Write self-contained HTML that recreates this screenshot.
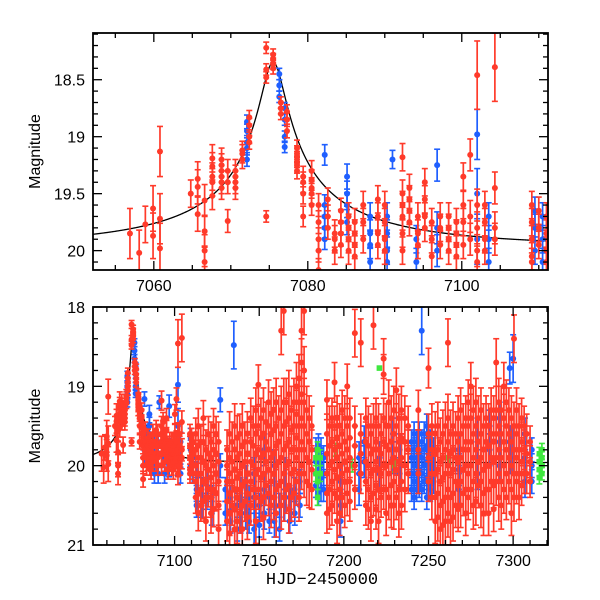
<!DOCTYPE html>
<html><head><meta charset="utf-8"><style>
html,body{margin:0;padding:0;background:#fff;}
svg{display:block;font-family:"Liberation Sans",sans-serif;}
</style></head><body>
<svg id="chart" width="600" height="600" viewBox="0 0 600 600" xmlns="http://www.w3.org/2000/svg"></svg>
<script>
// ---- data ----
const redNightT = [7056.9,7058.1,7058.9,7059.9,7060.8,7064.8,7065.7,7066.6,7067.6,7068.8,7069.6,7070.6,7071.5,7072.4,7074.6,7075.5,7076.5,7077.3,7078.6,7079.4,7080.5,7081.4,7082.6,7083.5,7084.3,7085.3,7086.1,7087.2,7089.1,7090.0,7092.3,7093.2,7094.3,7095.2,7096.1,7097.2,7098.3,7099.3,7100.2,7101.1,7102.0,7103.0,7104.3,7109.1,7110.0,7111.0,
7112.5,7114,7115.5,7117,7118.5,7120,7121.5,7123,7124.5,7126,7131,7132.5,7134,7135.5,7137,7138.5,7140,7141.5,7143,7145,7146.5,7148,7149.5,7151,7152.5,7154,7155.5,7157,7158.5,7160,7161.5,7163,7164.5,7166,7167.5,7169,7170.5,7172,7173.5,7175,7176.5,7178,7179.5,7181,
7190,7191.5,7193,7194.5,7196,7197.5,7199,7200.5,7202,7203.5,7206.5,7210,7213,7214.5,7216,7217.5,7219,7220.5,7222,7223.5,7225,7226.5,7228,7229.5,7231,7232.5,7234,7236,7238,7244,7250,7252,7254,7255.5,7257,7258.5,7260,7261.5,7263,7264.5,7266,7267.5,7269,7270.5,7272,7273.5,7275,7276.5,7278,7279.5,7281,7282.5,7284,7285.5,7287,7288.5,7290,7291.5,7293,7294.5,7296,7297.5,7299,7300.5,7302,7303.5,7305,7306.5,7308,7310];
const redNightMag = [[19.85],[20.02],[19.77],[19.63,19.87],[19.13,19.72,19.98],[19.5],[19.37,19.44,19.68],[19.56,19.83,20.0,20.1],[19.19,19.26,19.35,19.4,19.52],[19.2,19.25,19.3,19.35,19.4,19.45],[19.3,19.4,19.74],[19.3,19.35,19.4,19.45],[19.12,19.15,19.2],[18.83,18.9,19.0,19.05],[18.22,18.41,18.48,19.7],[18.28,18.32,18.36,18.4],[18.7,18.75,18.8],[18.78,18.85,18.95],[19.1,19.15,19.2,19.25,19.3],[19.35,19.4,19.5,19.7],[19.3,19.38,19.45,19.5,19.6],[19.6,19.75,19.9,20.0,20.17],[19.55,19.7,19.8],[19.85,20.0,19.9],[19.65,19.75,19.85,19.95],[19.7,19.8,19.9,20.0],[19.75,19.85,19.95,20.05],[19.6,19.75,19.9],[19.55,19.7,19.85,19.95],[19.6,19.75,19.9,20.0],[19.18,19.5,19.6,19.7,19.85,20.0],[19.45,19.55,19.65,19.75],[19.7,19.85,19.95],[19.4,19.55,19.7,19.8],[19.75,19.9,20.05],[19.7,19.8,19.95],[19.7,19.8,19.9,20.0],[19.75,19.85,19.95,20.05],[19.35,19.6,19.75,19.95],[19.16,19.7,19.9],[18.46,19.6,19.8,20.0,20.1],[19.6,19.75,19.9,20.0],[18.39,19.45,19.8,19.9],[19.6,19.75,19.9,20.05,20.1],[19.65,19.8,19.95],[19.7,19.85,20.0,20.1],
[19.6,19.8,20.0,20.2,20.4],[19.5,19.75,19.9,20.1,20.35,20.6],[19.7,19.9,20.1,20.3,20.5],[19.4,19.7,19.95,20.2,20.45],[19.8,20.0,20.2,20.4,20.7],[19.6,19.85,20.05,20.3],[19.7,19.9,20.15,20.4,20.6],[19.5,19.8,20.0,20.3,20.55],[19.6,19.85,20.1,20.35],[19.7,19.95,20.2,20.5,20.8],[19.8,20.0,20.2,20.45,20.7],[19.6,19.9,20.1,20.35,20.6,20.85],[19.7,19.95,20.2,20.5],[19.5,19.8,20.05,20.3,20.55,20.8],[19.65,19.9,20.15,20.4,20.7],[19.6,19.85,20.1,20.3,20.6],[19.5,19.75,20.0,20.25,20.5,20.8],[19.7,19.95,20.2,20.45],[19.6,19.85,20.1,20.35,20.65],[19.4,19.7,19.95,20.2,20.5],[19.5,19.75,20.0,20.3],[19.3,19.6,19.85,20.1,20.4,20.7],[18.98,19.5,19.8,20.05,20.3],[19.4,19.65,19.9,20.15,20.45],[19.3,19.6,19.85,20.1,20.4,20.65],[19.45,19.7,19.95,20.25],[19.2,19.5,19.8,20.05,20.35],[19.35,19.6,19.9,20.2,20.5],[19.3,19.55,19.85,20.1,20.4],[19.2,19.5,19.75,20.0,20.3,20.6],[19.4,19.7,19.95,20.25],[18.3,19.3,19.6,19.9,20.2,20.5],[18.05,19.2,19.5,19.8,20.1,20.4],[19.2,19.45,19.75,20.0,20.3],[19.1,19.4,19.7,19.95,20.25,20.55],[19.3,19.55,19.8,20.1,20.4],[19.2,19.5,19.8,20.05,20.35],[19.0,19.35,19.65,19.9,20.2],[18.9,19.2,19.5,19.8,20.1,20.4],[18.3,18.7,19.1,19.4,19.7,20.0],[18.05,18.8,19.2,19.5,19.8,20.1],[19.3,19.6,19.9,20.2],[19.4,19.7,19.95,20.25],[19.5,19.8,20.05,20.3],
[19.17,19.6,19.85,20.1,20.35,20.6],[19.5,19.75,20.0,20.3,20.55],[19.4,19.7,19.95,20.2,20.5],[18.95,19.5,19.8,20.05,20.35],[19.4,19.65,19.9,20.15,20.4,20.7],[19.5,19.75,20.0,20.3,20.6],[19.3,19.6,19.85,20.1,20.4],[19.4,19.7,19.95,20.2,20.5],[19.0,19.5,19.8,20.05,20.35],[19.4,19.65,19.9,20.2,20.45],[18.33,19.5,19.75,20.0,20.3],[18.45,19.6,19.85,20.1],[19.4,19.7,19.95,20.2,20.5],[19.5,19.75,20.0,20.3,20.55],[19.6,19.85,20.1,20.4,20.7],[18.23,19.5,19.8,20.05,20.35],[19.4,19.7,19.95,20.25,20.55],[19.5,19.8,20.05,20.3,20.7],[19.6,19.85,20.1,20.4],[18.65,18.85,19.4,19.7,20.0,20.3],[19.5,19.75,20.0,20.3,20.6],[19.2,19.5,19.8,20.1,20.4],[19.4,19.7,19.95,20.25,20.5],[19.3,19.6,19.9,20.2,20.5],[19.05,19.5,19.8,20.05,20.4],[19.4,19.7,19.95,20.3,20.6],[19.3,19.65,19.9,20.2,20.5],[19.4,19.7,20.0,20.3],[19.5,19.8,20.1],[19.3,19.8,20.1],[18.77,19.6,19.9,20.2],[19.5,19.8,20.1,20.4],[19.6,19.85,20.1,20.4,20.7],[19.5,19.8,20.05,20.35,20.65],[19.7,19.95,20.2,20.5,20.8],[19.6,19.9,20.15,20.45,20.75],[19.5,19.8,20.1,20.4,20.7],[18.45,19.4,19.7,20.0,20.3,20.6],[19.6,19.85,20.1,20.4,20.7],[19.5,19.8,20.05,20.35,20.65],[19.6,19.9,20.2,20.5],[19.4,19.7,19.95,20.25,20.55],[19.3,19.6,19.9,20.2,20.5],[19.5,19.8,20.05,20.35],[19.4,19.7,20.0,20.3,20.6],[19.2,19.5,19.8,20.1,20.4],[19.0,19.4,19.7,20.0,20.3],[19.3,19.6,19.9,20.2,20.5],[19.2,19.5,19.8,20.1,20.45],[19.4,19.7,19.95,20.25],[19.3,19.6,19.9,20.2,20.5],[19.5,19.8,20.05,20.35,20.6],[19.4,19.7,20.0,20.3],[19.5,19.75,20.0,20.3,20.6],[19.3,19.6,19.9,20.2],[19.4,19.7,19.95,20.25,20.55],[18.7,19.3,19.6,19.9,20.2],[19.2,19.5,19.8,20.1,20.4],[19.3,19.6,19.9,20.2,20.5],[19.0,19.4,19.7,20.0,20.3],[19.2,19.5,19.8,20.1,20.4],[19.3,19.6,19.9,20.2],[19.4,19.7,20.0,20.3,20.6],[18.4,19.5,19.8,20.1,20.4],[19.3,19.6,19.9,20.2],[19.5,19.8,20.1,20.4],[19.4,19.7,19.95,20.25],[19.5,19.8,20.1],[19.6,19.85,20.1],[19.7,19.95,20.2]];
const redNightErr = [0.22,0.2,0.16,0.2,0.22,0.12,0.15,0.14,0.12,0.1,0.1,0.1,0.08,0.06,0.05,0.05,0.05,0.06,0.07,0.09,0.09,0.1,0.1,0.12,0.11,0.12,0.12,0.12,0.12,0.12,0.12,0.12,0.12,0.12,0.12,0.12,0.12,0.12,0.12,0.14,0.14,0.12,0.14,0.12,0.12,0.12,
0.2,0.22,0.2,0.22,0.25,0.22,0.25,0.22,0.22,0.25,0.25,0.28,0.25,0.28,0.28,0.25,0.28,0.25,0.28,0.25,0.25,0.28,0.25,0.25,0.28,0.25,0.28,0.28,0.28,0.3,0.28,0.3,0.3,0.3,0.3,0.3,0.3,0.3,0.3,0.3,0.3,0.3,0.28,0.25,
0.25,0.25,0.25,0.25,0.28,0.28,0.25,0.28,0.28,0.25,0.25,0.25,0.25,0.25,0.25,0.28,0.25,0.28,0.25,0.25,0.28,0.28,0.28,0.3,0.28,0.3,0.3,0.28,0.25,0.25,0.25,0.28,0.28,0.3,0.3,0.3,0.3,0.3,0.3,0.3,0.28,0.28,0.28,0.28,0.28,0.28,0.3,0.3,0.3,0.28,0.28,0.28,0.28,0.28,0.28,0.28,0.3,0.3,0.3,0.3,0.28,0.28,0.28,0.3,0.28,0.28,0.25,0.25,0.25,0.2];

const blueNightT = [7072.1,7076.3,7077.0,7082.2,7085.1,7088.1,7090.3,7091.0,7094.1,7096.8,7102.0,7103.5,7109.5,7110.5,7113,7116,7119,7122,7127,7130,7133,7135,7137,7139,7142,7144,7147,7150,7153,7156,7159,7162,7165,7168,7171,7174,7183.5,7185,7186.5,7188,7198,7209,7212,7221,7229,7233,7240,7241.5,7243,7244.5,7246,7247.5,7249,7251,7253,7268,7279,7286,7292,7298,7300,7307,7311];
const blueNightMag = [[18.87,18.95,19.05,19.1,19.2],[18.45,18.55,18.65],[18.75,18.85,19.0,19.09],[19.16,19.6,19.7,19.8,19.9],[19.35,19.5,19.6,19.75],[19.7,19.85,19.95,20.1],[19.7,19.85,20.0,20.1],[19.2],[19.9,20.1],[19.25,19.8,20.0],[18.98,19.5,19.9],[19.7,19.9,20.1],[19.65,19.8,20.0],[19.7,19.9,20.1],[20.1,20.3,20.5],[20.3,20.5],[20.2,20.4],[20.4,20.6],[19.17,20.0],[20.3,20.6],[20.4,20.7],[18.48],[20.5,20.8],[20.3,20.5,20.7],[20.2,20.6],[20.4,20.7],[20.1,20.4,20.8],[20.5,20.75],[19.8,20.3,20.6],[20.4,20.7],[20.0,20.4,20.7],[20.5,20.8],[20.1,20.5],[20.4,20.7],[20.3,20.6],[20.2,20.5],[19.8,19.95,20.1,20.25],[19.75,19.9,20.05,20.2,20.35],[19.8,20.0,20.15,20.3],[19.9,20.1,20.3],[20.2,20.5,20.7],[19.9,20.1,20.3],[19.7,19.95],[19.9,20.1],[19.6,19.9],[19.8,20.1],[19.7,19.9,20.1,20.3],[19.6,19.8,20.0,20.2,20.4],[19.7,19.9,20.1,20.3],[19.6,19.85,20.05,20.25],[18.3,19.7,19.9,20.1,20.3],[19.6,19.8,20.0,20.2],[19.5,19.75,19.95,20.15,20.4],[19.7,19.9,20.1,20.3],[19.8,20.0,20.2],[19.8,20.05,20.3],[19.6,19.9,20.1],[19.5,19.8],[19.4,19.7,20.0],[18.77,19.7,19.9],[18.65,19.8],[19.6,19.9,20.2],[19.8,20.0,20.2]];
const blueNightErr = [0.06,0.05,0.05,0.09,0.11,0.12,0.12,0.08,0.12,0.14,0.22,0.12,0.12,0.12,0.15,0.15,0.15,0.15,0.15,0.15,0.15,0.15,0.15,0.15,0.2,0.15,0.2,0.15,0.2,0.15,0.2,0.15,0.2,0.15,0.15,0.15,0.15,0.15,0.15,0.15,0.2,0.2,0.2,0.2,0.2,0.2,0.15,0.15,0.15,0.15,0.15,0.15,0.15,0.15,0.15,0.2,0.2,0.2,0.2,0.2,0.3,0.2,0.15];

const greenNightT = [7183.5,7184.5,7186,7195,7205,7221,7230,7262,7315.5,7317];
const greenNightMag = [[19.9,20.1],[19.8,20.2,20.4],[19.9,20.1],[19.8],[20.0],[18.77],[20.0],[19.9],[19.85,19.95,20.05,20.15],[19.8,19.9,20.0,20.1]];
const greenNightErr = [0.1,0.1,0.1,0.08,0.08,0,0.08,0.08,0.08,0.08];

// microlensing model parameters
const modelT0 = 7075.5, modelTE = 30, modelU0 = 0.05, modelFs = 0.18, modelBase = 19.96;

// axis tick values
const topXTicks = [7060,7080,7100];
const topYTicks = [18.5,19,19.5,20];
const botXTicks = [7100,7150,7200,7250,7300];
const botYTicks = [18,19,20,21];

// ---- drawing ----
const NS = "http://www.w3.org/2000/svg";
const svg = document.getElementById("chart");
function mk(tag, attrs, parent){ const e=document.createElementNS(NS,tag); for(const k in attrs) e.setAttribute(k,attrs[k]); (parent||svg).appendChild(e); return e; }

const panels = [
  {name:"top", x0:93, x1:548, y0:33, y1:270, tmin:7052.1, tmax:7111.2, mmin:18.09, mmax:20.17,
   xt:topXTicks, xminor:5, yt:topYTicks, yminor:0.1},
  {name:"bottom", x0:93, x1:548, y0:307, y1:545, tmin:7051.8, tmax:7320.6, mmin:18, mmax:21,
   xt:botXTicks, xminor:10, yt:botYTicks, yminor:0.2}
];

function modelMag(t){
  const tau=(t-modelT0)/modelTE; const u=Math.sqrt(modelU0*modelU0+tau*tau);
  const A=(u*u+2)/(u*Math.sqrt(u*u+4));
  return modelBase-2.5*Math.log10(modelFs*(A-1)+1);
}

panels.forEach((p,pi)=>{
  const X = t => p.x0+(t-p.tmin)/(p.tmax-p.tmin)*(p.x1-p.x0);
  const Y = m => p.y0+(m-p.mmin)/(p.mmax-p.mmin)*(p.y1-p.y0);
  const g = mk("g",{});
  
  
  const cp = mk("clipPath",{id:"clip"+pi}, g);
  mk("rect",{x:p.x0,y:p.y0,width:p.x1-p.x0,height:p.y1-p.y0}, cp);
  const plot = mk("g",{"clip-path":"url(#clip"+pi+")"}, g);

  // model (drawn beneath data)
  let d="";
  for(let t=p.tmin;t<=p.tmax;t+=(p.tmax-p.tmin)/900){ d+=(d?"L":"M")+X(t).toFixed(2)+","+Y(modelMag(t)).toFixed(2); }
  const ml=mk("path",{d:d,fill:"none",stroke:"#000","stroke-width":1.3}, plot);
  
  

  function series(T,M,E,color,name,square){
    const sg = mk("g",{}, plot);
    
    
    T.forEach((t,i)=>{
      M[i].forEach(m=>{
        const x=X(t), y=Y(m), e=E[i];
        const err = (m<18.6 && t>7100) ? Math.max(e,0.3) : e;
        if(err>0){
          const ya=Y(m-err), yb=Y(m+err);
          mk("line",{x1:x,x2:x,y1:ya,y2:yb,stroke:color,"stroke-width":1.7}, sg);
          mk("line",{x1:x-3,x2:x+3,y1:ya,y2:ya,stroke:color,"stroke-width":1.6}, sg);
          mk("line",{x1:x-3,x2:x+3,y1:yb,y2:yb,stroke:color,"stroke-width":1.6}, sg);
        }
        if(square){ mk("rect",{x:x-2.8,y:y-2.8,width:5.6,height:5.6,fill:color}, sg); }
        else { const c=mk("circle",{cx:x,cy:y,r:3,fill:color}, sg);
          
           }
      });
    });
  }
  series(blueNightT,blueNightMag,blueNightErr,"#1f5fff","blue");
  series(greenNightT,greenNightMag,greenNightErr,"#3fe83f","green",true);
  series(redNightT,redNightMag,redNightErr,"#ff3a2a","red");

  // frame
  const fr=mk("rect",{x:p.x0,y:p.y0,width:p.x1-p.x0,height:p.y1-p.y0,fill:"none",stroke:"#000","stroke-width":1.8}, g);
  
  

  const eps=1e-6;
  for(let t=Math.ceil(p.tmin/p.xminor)*p.xminor;t<=p.tmax;t+=p.xminor){
    const major = p.xt.some(v=>Math.abs(v-t)<eps);
    const L = major?9:5, x=X(t);
    mk("line",{x1:x,x2:x,y1:p.y1,y2:p.y1-L,stroke:"#000","stroke-width":1.3}, g);
    mk("line",{x1:x,x2:x,y1:p.y0,y2:p.y0+L,stroke:"#000","stroke-width":1.3}, g);
  }
  p.xt.forEach(t=>{
    const tx=mk("text",{x:X(t),y:p.y1+21,"text-anchor":"middle","font-size":16,fill:"#000"}, g);
    tx.textContent=t;
    
    
  });
  const ys = Math.ceil(p.mmin/p.yminor-eps)*p.yminor;
  for(let m=ys;m<=p.mmax+eps;m+=p.yminor){
    const major = p.yt.some(v=>Math.abs(v-m)<1e-4);
    const L = major?9:5, y=Y(m);
    mk("line",{x1:p.x0,x2:p.x0+L,y1:y,y2:y,stroke:"#000","stroke-width":1.3}, g);
    mk("line",{x1:p.x1,x2:p.x1-L,y1:y,y2:y,stroke:"#000","stroke-width":1.3}, g);
  }
  p.yt.forEach(m=>{
    const tx=mk("text",{x:p.x0-8,y:Y(m)+6,"text-anchor":"end","font-size":16,fill:"#000"}, g);
    tx.textContent=m;
    
    
  });
  const yl=mk("text",{x:0,y:0,"text-anchor":"middle","font-size":16,fill:"#000",transform:"translate(40,"+((p.y0+p.y1)/2)+") rotate(-90)"}, g);
  yl.textContent="Magnitude";
  
  
});
const xl=mk("text",{x:322,y:584,"text-anchor":"middle","font-size":17,fill:"#000","font-family":"Liberation Mono, monospace"});
xl.textContent="HJD−2450000";


</script>
</body></html>
